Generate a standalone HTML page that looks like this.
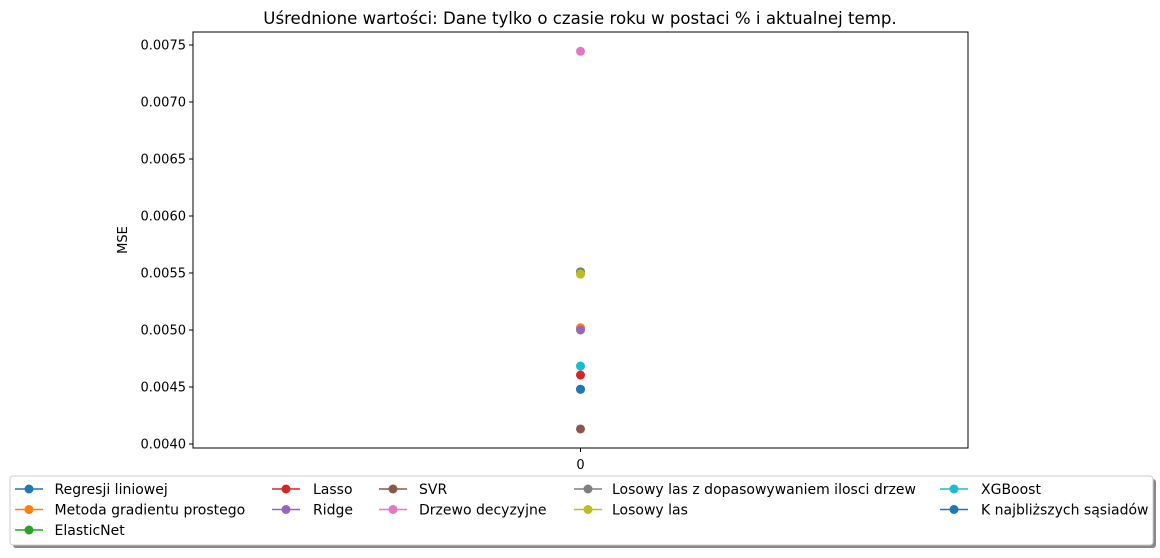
<!DOCTYPE html>
<html><head><meta charset="utf-8"><style>
body{margin:0;background:#fff;}
svg{font-family:"DejaVu Sans","Liberation Sans",sans-serif;}
</style></head><body>
<svg id="chart" width="1160" height="553">
<text x="580" y="24" text-anchor="middle" font-size="16.6">Uśrednione wartości: Dane tylko o czasie roku w postaci % i aktualnej temp.</text>
<rect x="193" y="32" width="775" height="416" fill="none" stroke="#000" stroke-width="1"/>
<g id="yaxis"></g>
<line x1="580.5" y1="448" x2="580.5" y2="452" stroke="#000"/>
<text x="580.5" y="469" text-anchor="middle" font-size="13">0</text>
<text transform="translate(127,240) rotate(-90)" text-anchor="middle" font-size="13">MSE</text>
<g id="points"></g>
<rect x="13" y="479" width="1143" height="69" rx="3" fill="#888"/>
<rect x="10" y="476" width="1143" height="69" rx="3" fill="#fff" stroke="#ccc"/>
<g id="legend"></g>
</svg>
<script>
const models=["Regresji liniowej","Metoda gradientu prostego","ElasticNet","Lasso","Ridge","SVR","Drzewo decyzyjne","Losowy las z dopasowywaniem ilosci drzew","Losowy las","XGBoost","K najbliższych sąsiadów"];
const colors=["#1f77b4","#ff7f0e","#2ca02c","#d62728","#9467bd","#8c564b","#e377c2","#7f7f7f","#bcbd22","#17becf","#1f77b4"];
const mseValues=[0.00448,0.00502,0.00551,0.004605,0.00500,0.004132,0.007445,0.00551,0.00549,0.004684,0.00448];
const yTicks=[0.0040,0.0045,0.0050,0.0055,0.0060,0.0065,0.0070,0.0075];
const NS="http://www.w3.org/2000/svg";
function y(v){return 444-(v-0.004)/0.0005*57;}
function mk(t,a){const e=document.createElementNS(NS,t);for(const k in a)e.setAttribute(k,a[k]);return e;}
const ya=document.getElementById('yaxis');
yTicks.forEach(t=>{
 const l=mk('line',{x1:189,x2:193,y1:y(t),y2:y(t),stroke:'#000'});
 
 
 ya.appendChild(l);
 const tx=mk('text',{x:186,y:y(t)+4.5,'text-anchor':'end','font-size':13});
 
 
 tx.textContent=t.toFixed(4);ya.appendChild(tx);
});
const pg=document.getElementById('points');
mseValues.forEach((v,i)=>{
 const c=mk('circle',{cx:580.5,cy:y(v),r:4.5,fill:colors[i]});
 
 
 pg.appendChild(c);
});
const cols=[[15,54.5],[272,313],[379,419],[574,612],[940,981]];
const colStart=[0,3,5,7,9];
const lg=document.getElementById('legend');
models.forEach((m,i)=>{
 let col=0;
 for(let c=0;c<colStart.length;c++){if(i>=colStart[c])col=c;}
 const row=i-colStart[col];
 const x0=cols[col][0],tx=cols[col][1],yy=489+row*20.5;
 const g=mk('g',{});
 
 
 g.appendChild(mk('line',{x1:x0,x2:x0+28,y1:yy,y2:yy,stroke:colors[i],'stroke-width':1.5}));
 g.appendChild(mk('circle',{cx:x0+14,cy:yy,r:4.5,fill:colors[i]}));
 const t=mk('text',{x:tx,y:yy+5,'font-size':14});t.textContent=m;g.appendChild(t);
 lg.appendChild(g);
});
</script>
</body></html>
